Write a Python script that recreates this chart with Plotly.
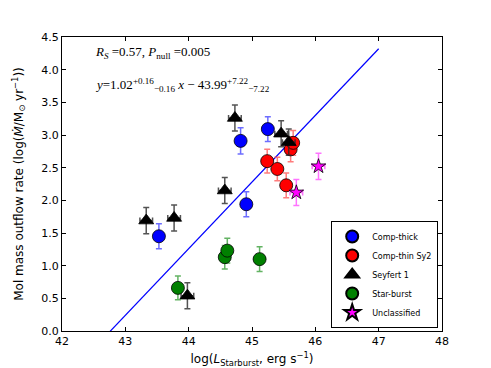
import plotly.graph_objects as go

# Comp-thick
thick_x = [43.53, 44.82, 45.25, 44.91]
thick_y = [1.45, 2.91, 3.09, 1.94]
thick_yerr = [0.19, 0.2, 0.19, 0.19]

# Comp-thin Sy2
thin_x = [45.24, 45.40, 45.54, 45.61, 45.65]
thin_y = [2.60, 2.48, 2.23, 2.78, 2.88]
thin_yerr = [0.18, 0.18, 0.19, 0.19, 0.19]

# Seyfert 1
sy1_x = [43.33, 43.77, 43.98, 44.57, 44.73, 45.46, 45.58]
sy1_y = [1.69, 1.73, 0.54, 2.15, 3.26, 3.02, 2.89]
sy1_yerr = [0.2, 0.2, 0.2, 0.2, 0.2, 0.2, 0.2]
sy1_xerr = [0.1, 0.1, 0.1, 0.1, 0.1, 0.1, 0.1]

# Star-burst
sb_x = [43.83, 44.57, 44.61, 45.12]
sb_y = [0.66, 1.13, 1.23, 1.10]
sb_yerr = [0.18, 0.18, 0.19, 0.19]

# Unclassified
unc_x = [46.05, 45.70]
unc_y = [2.52, 2.12]
unc_yerr = [0.2, 0.2]
unc_xerr = [0.1, 0.1]

# fitted line
fit_slope = 1.02
fit_intercept = -43.62
fit_xrange = [42.0, 47.0]

fig = go.Figure()

fig.add_trace(go.Scatter(
    x=fit_xrange, y=[fit_slope * v + fit_intercept for v in fit_xrange],
    mode="lines", line=dict(color="#0000ff", width=1.2), showlegend=False, hoverinfo="skip"))


def add_group(x, y, yerr, name, color, symbol, size, errcolor, xerr=None):
    tr = dict(
        x=x, y=y, mode="markers", name=name,
        marker=dict(color=color, symbol=symbol, size=size, line=dict(color="black", width=0.8)),
        error_y=dict(type="data", array=yerr, color=errcolor, thickness=1.5, width=3),
    )
    if xerr is not None:
        tr["error_x"] = dict(type="data", array=xerr, color=errcolor, thickness=1.5, width=3)
    fig.add_trace(go.Scatter(**tr))


add_group(thick_x, thick_y, thick_yerr, "Comp-thick", "#0000ff", "circle", 13, "rgba(60,60,255,0.75)")
add_group(thin_x, thin_y, thin_yerr, "Comp-thin Sy2", "#ff0000", "circle", 13, "rgba(255,80,80,0.75)")
add_group(sy1_x, sy1_y, sy1_yerr, "Seyfert 1", "#000000", "triangle-up", 13, "rgba(40,40,40,0.8)", xerr=sy1_xerr)
add_group(sb_x, sb_y, sb_yerr, "Star-burst", "#008000", "circle", 13, "rgba(60,160,60,0.8)")
add_group(unc_x, unc_y, unc_yerr, "Unclassified", "#ff00ff", "star", 11, "rgba(255,80,255,0.8)", xerr=unc_xerr)

axis_common = dict(
    showgrid=False, zeroline=False, showline=True, linecolor="black", linewidth=1,
    mirror="ticks", ticks="inside", ticklen=4, tickcolor="black", automargin=False,
    tickfont=dict(family="DejaVu Sans", size=11, color="black"),
)

fig.update_xaxes(range=[42, 48], dtick=1, **axis_common,
                 title=dict(text="log(<i>L</i><sub>Starburst</sub>, erg s<sup>−1</sup>)",
                            font=dict(family="DejaVu Sans", size=12, color="black")))
fig.update_yaxes(range=[0, 4.5], dtick=0.5, tickformat=".1f", **axis_common,
                 title=dict(text="Mol mass outflow rate (log(<i>Ṁ</i>/M<sub>⊙</sub> yr<sup>−1</sup>))",
                            font=dict(family="DejaVu Sans", size=12, color="black")))

fig.add_annotation(x=42.49, y=4.26, xref="x", yref="y", xanchor="left", showarrow=False,
                   text="<i>R<sub>S</sub></i> =0.57, <i>P</i><sub>null</sub> =0.005",
                   font=dict(family="Liberation Serif", size=13, color="black"))
fig.add_annotation(x=42.49, y=3.76, xref="x", yref="y", xanchor="left", showarrow=False,
                   text="<i>y</i>=1.02<sup>+0.16</sup><sub>−0.16</sub> <i>x</i> − 43.99<sup>+7.22</sup><sub>−7.22</sub>",
                   font=dict(family="Liberation Serif", size=13, color="black"))

# page body adds an 8px margin, so the figure is 8px smaller and shifted
fig.update_layout(
    width=483, height=360,
    margin=dict(l=54, r=49, t=29, b=37),
    plot_bgcolor="white", paper_bgcolor="white",
    legend=dict(x=0.99, y=0.01, xanchor="right", yanchor="bottom",
                bordercolor="black", borderwidth=1, bgcolor="white",
                font=dict(family="DejaVu Sans", size=8, color="black"),
                tracegroupgap=0, itemsizing="constant"),
)

fig.write_html("out.html")
